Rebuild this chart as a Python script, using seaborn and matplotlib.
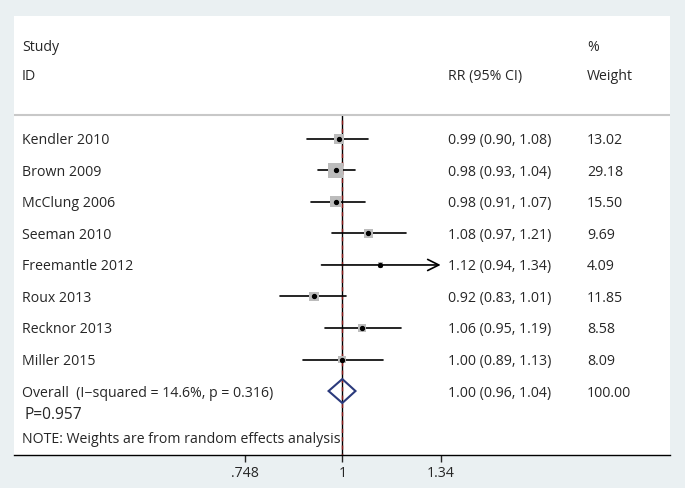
import matplotlib
matplotlib.use("Agg")
import matplotlib.pyplot as plt
import matplotlib.transforms as mtransforms
from matplotlib.patches import Polygon
import numpy as np
import seaborn as sns

# ---------------------------------------------------------------------------
# Datos
# ---------------------------------------------------------------------------
estudios = ["Kendler 2010", "Brown 2009", "McClung 2006", "Seeman 2010",
            "Freemantle 2012", "Roux 2013", "Recknor 2013", "Miller 2015"]
rr = [0.99, 0.98, 0.98, 1.08, 1.12, 0.92, 1.06, 1.00]
ic_inf = [0.90, 0.93, 0.91, 0.97, 0.94, 0.83, 0.95, 0.89]
ic_sup = [1.08, 1.04, 1.07, 1.21, 1.34, 1.01, 1.19, 1.13]
pesos = [13.02, 29.18, 15.50, 9.69, 4.09, 11.85, 8.58, 8.09]

global_rr = 1.00
global_inf = 0.96
global_sup = 1.04
global_etiqueta = "Overall  (I\u2212squared = 14.6%, p = 0.316)"
global_peso = "100.00"
texto_p = "P=0.957"
nota = "NOTE: Weights are from random effects analysis"

ticks_x = [0.748, 1.0, 1.34]
ticks_etiquetas = [".748", "1", "1.34"]

FONDO = "#eaf0f2"
GRIS_MARCA = "#bcbcbc"
NAVY = "#2b3a7c"
ROJO_OSCURO = "#8b1a1a"

sns.set_style("white")
plt.rcParams["font.family"] = ["Open Sans", "DejaVu Sans"]
FS = 10.2
VA = "center_baseline"

fig = plt.figure(figsize=(6.85, 4.88), dpi=100, facecolor=FONDO)
ax = fig.add_axes([14 / 685, 33 / 488, 656 / 685, 439 / 488])
ax.set_facecolor("white")
ax.set_xscale("log")
ax.set_xlim(0.3764, 2.652)
ax.set_ylim(10.03, -3.9)

filas = np.arange(len(estudios))

# Intervalos de confianza
for i, (lo, hi) in enumerate(zip(ic_inf, ic_sup)):
    if hi >= 1.34:
        ax.annotate("", xy=(hi, i), xytext=(lo, i),
                    arrowprops=dict(arrowstyle="->", lw=1.2, color="black",
                                    shrinkA=0, shrinkB=0,
                                    mutation_scale=20))
    else:
        ax.plot([lo, hi], [i, i], color="black", lw=1.2, zorder=2)

# Línea nula y línea del efecto global
ax.plot([1, 1], [-0.76, 10.03], color="black", lw=1.0, zorder=1)
ax.plot([global_rr, global_rr], [-0.6, 10.03], color=ROJO_OSCURO, lw=1.0,
        ls=(0, (3, 3)), zorder=1.5)

# Cuadrados proporcionales al peso
tam = 4.06 * np.array(pesos)
sns.scatterplot(x=rr, y=filas, s=tam, marker="s", color=GRIS_MARCA,
                linewidth=0, ax=ax, legend=False, zorder=3)
ax.plot(rr, filas, "o", color="black", ms=2.8, zorder=4)

# Diamante global
fila_g = len(estudios)
diamante = Polygon([(global_inf, fila_g), (global_rr, fila_g - 0.38),
                    (global_sup, fila_g), (global_rr, fila_g + 0.38)],
                   closed=True, fill=False, edgecolor=NAVY, lw=1.5, zorder=4)
ax.add_patch(diamante)

# Línea separadora del encabezado
ax.axhline(-0.76, color="#c8c8c8", lw=1.5, zorder=1)

# Textos
trans = mtransforms.blended_transform_factory(ax.transAxes, ax.transData)
x_est = (22 - 14) / 656
x_rr = (448 - 14) / 656
x_w = (587 - 14) / 656

ax.text(x_est, -2.95, "Study", transform=trans, fontsize=FS, va=VA)
ax.text(x_est, -2.03, "ID", transform=trans, fontsize=FS, va=VA)
ax.text(x_rr, -2.03, "RR (95% CI)", transform=trans, fontsize=FS, va=VA)
ax.text(x_w, -2.95, "%", transform=trans, fontsize=FS, va=VA)
ax.text(x_w, -2.03, "Weight", transform=trans, fontsize=FS, va=VA)

for i, nombre in enumerate(estudios):
    ax.text(x_est, i, nombre, transform=trans, fontsize=FS, va=VA)
    ax.text(x_rr, i, f"{rr[i]:.2f} ({ic_inf[i]:.2f}, {ic_sup[i]:.2f})",
            transform=trans, fontsize=FS, va=VA)
    ax.text(x_w, i, f"{pesos[i]:.2f}", transform=trans, fontsize=FS, va=VA)

ax.text(x_est, fila_g, global_etiqueta, transform=trans, fontsize=FS, va=VA)
ax.text(x_rr, fila_g, f"{global_rr:.2f} ({global_inf:.2f}, {global_sup:.2f})",
        transform=trans, fontsize=FS, va=VA)
ax.text(x_w, fila_g, global_peso, transform=trans, fontsize=FS, va=VA)
ax.text((25 - 14) / 656, 8.7, texto_p, transform=trans, fontsize=FS + 1, va=VA)
ax.text(x_est, 9.49, nota, transform=trans, fontsize=FS, va=VA)

# Ejes
for lado in ["top", "left", "right"]:
    ax.spines[lado].set_visible(False)
ax.spines["bottom"].set_color("black")
ax.spines["bottom"].set_linewidth(1.0)
ax.set_yticks([])
ax.set_xticks(ticks_x)
ax.set_xticklabels(ticks_etiquetas)
ax.xaxis.set_minor_locator(matplotlib.ticker.NullLocator())
ax.tick_params(axis="x", direction="out", length=5, width=1, labelsize=FS,
               bottom=True, pad=3)
ax.grid(False)

fig.savefig("out.png", dpi=100, facecolor=FONDO)
